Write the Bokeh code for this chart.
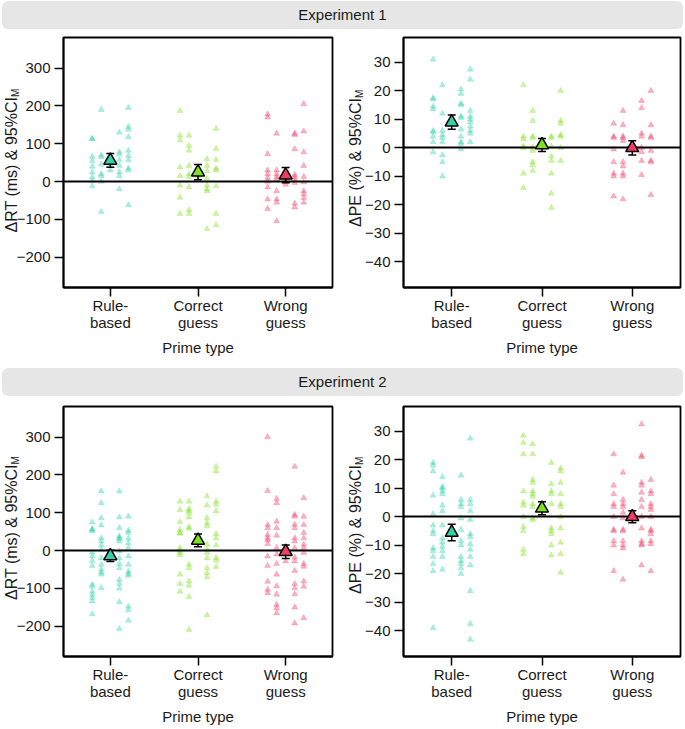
import math
from bokeh.plotting import figure
from bokeh.layouts import column, row
from bokeh.models import Div, FixedTicker, ColumnDataSource, InlineStyleSheet
from bokeh.embed import file_html
from bokeh.resources import INLINE

# ---------------- data ----------------
groups = ["Rule-based", "Correct guess", "Wrong guess"]
tick_labels = ["Rule-\nbased", "Correct\nguess", "Wrong\nguess"]
jitter_cols = [-2, -1, 0, 1, 2]          # jitter column index of each sub-list

# Experiment 1, ΔRT (ms)
e1_rt_rule = [
    [114, 112, 66, 55, 40, 25, 12, 2, -12],
    [190, 70, 65, 45, 20, 15, 0, -80],
    [45, 30],
    [130, 78, 72, 57, 42, 25, 15, -20],
    [195, 145, 138, 118, 82, 68, 57, 35, 30, -62],
]
e1_rt_correct = [
    [187, 122, 110, 38, 15, -10, -42, -85],
    [122, 95, 82, 42, 20, 12, -15, -75, -85],
    [15, 5],
    [60, 42, 28, 8, -10, -20, -25, -125],
    [140, 87, 58, 35, 30, -12, -85, -115],
]
e1_rt_wrong = [
    [178, 170, 73, 30, 20, 10, 0, -15, -47, -72],
    [127, 30, 20, 12, 5, -25, -47, -55, -104],
    [10, 0, -8],
    [127, 124, 86, 18, 12, 5, -3, -58, -68],
    [205, 133, 78, 42, 13, -2, -25, -33, -43, -55],
]
e1_rt_mean = [56, 25, 17]
e1_rt_ci = [18, 20, 20]

# Experiment 1, ΔPE (%)
e1_pe_rule = [
    [31, 17.5, 17, 14.5, 13.5, 6, 5.5, 4, 2, -1.5],
    [22, 12, 6, 4.5, 3.5, 2, -2.5, -5, -10],
    [],
    [20.5, 19, 15.5, 15, 11, 10.5, 6.5, 4, 2, 1.5, -0.5],
    [27.5, 24, 13, 11, 10, 9, 7.5, 6, 5, 2],
]
e1_pe_correct = [
    [22, 4, 3, 0.5, 0, -9, -14],
    [13, 9.5, 4, 3.5, 0, -1, -5, -6, -8],
    [],
    [4, 3.5, 0.5, -3, -4.5, -9, -16, -21],
    [20, 9.5, 8.5, 4.5, 4, 0, -4.5],
]
e1_pe_wrong = [
    [8.5, 4, 3.5, -0.5, -5, -9, -10, -17],
    [13, 8, 4, 3.5, 2.5, -5, -6.5, -9, -10, -18],
    [],
    [16.5, 14, 5, 4, 0, -1.5, -4.5, -9.5],
    [20, 8, 4, 3.5, -1, -4.5, -5, -16.5],
]
e1_pe_mean = [9, 1, 0]
e1_pe_ci = [2.5, 2.3, 2.5]

# Experiment 2, ΔRT (ms)
e2_rt_rule = [
    [75, 57, 55, 52, -5, -15, -27, -40, -90, -95, -108, -117, -125, -134, -168],
    [157, 126, 86, 67, 33, 25, 15, 3, -20, -37, -50, -58, -63, -99],
    [],
    [157, 88, 60, 38, 33, 31, 25, -2, -20, -35, -46, -77, -88, -100, -136, -207],
    [90, 53, 47, 32, 20, 7, -15, -37, -55, -61, -66, -148, -157, -185],
]
e2_rt_correct = [
    [130, 108, 76, 55, 47, 45, 7, 0, -6, -12, -63, -88, -108],
    [130, 110, 105, 100, 88, 62, 58, -37, -46, -81, -92, -122, -209],
    [],
    [144, 120, 86, 73, 65, 16, 3, -6, -20, -46, -59, -70, -170],
    [222, 210, 130, 122, 104, 44, 33, 14, -19, -26, -43],
]
e2_rt_wrong = [
    [300, 158, 68, 60, 42, 33, 28, 18, -15, -40, -82, -103, -112],
    [137, 126, 77, 60, 40, 7, -10, -35, -63, -94, -116, -143, -152, -165],
    [5, -28],
    [222, 95, 90, 69, 60, 33, 25, 7, -18, -28, -53, -88, -99, -115, -150, -192],
    [139, 90, 68, 47, 33, 16, 7, -6, -35, -42, -81, -95, -178],
]
e2_rt_mean = [-14, 27, -3]
e2_rt_ci = [15, 17, 18]

# Experiment 2, ΔPE (%)
e2_pe_rule = [
    [19, 18, 16, 7.5, 1, -3, -5, -6, -11, -12, -14, -16.5, -19, -39],
    [14, 10.5, 10, 9, 8, 4, 2, -3, -7.5, -9, -10.5, -12, -14, -18.5],
    [],
    [14.5, 6, 4.5, 3.5, -0.5, -4.5, -8.5, -10, -14, -15.5, -16.5, -18, -20],
    [27.5, 6, 4.5, 2, -1, -6, -7, -9.5, -11.5, -14, -17, -26, -37.5, -43],
]
e2_pe_correct = [
    [28.5, 26, 22, 9, 5, 4, 0, -3.5, -5, -11.5, -13],
    [25.5, 22, 13, 12, 9, 8, 7, 4.5, 3.5, -0.5, -1],
    [],
    [19, 11.5, 9, 8, 4.5, -4, -5, -6, -10, -13.5],
    [17, 16, 12, 8, 4.5, 3.5, 0, -4, -9, -13, -19.5],
]
e2_pe_wrong = [
    [22, 11, 8, 4.5, 3.5, 0, -4.5, -5, -8.5, -10, -19],
    [15.5, 6, 4.5, 3.5, 1.5, -0.5, -4.5, -5, -8.5, -10, -11, -22],
    [],
    [32.5, 21.5, 21, 12, 11, 8.5, 6, 3.5, 0, -4, -8.5, -9.5, -10, -17],
    [13, 9, 8, 4.5, 3.5, 2.5, 0, -4.5, -5, -6, -8.5, -9.5, -19],
]
e2_pe_mean = [-5.5, 3, 0]
e2_pe_ci = [2.9, 2.3, 2.1]

rt_ticks = [-200, -100, 0, 100, 200, 300]
pe_ticks = [-40, -30, -20, -10, 0, 10, 20, 30]

# ---------------- style ----------------
colors = ["#2ED3A8", "#7FE01E", "#EE3D66"]
FONT = "Liberation Sans"
CSS_FONT = "'Liberation Sans', Arial, sans-serif"
TXT = "#1a1a1a"
COL_STEP = 0.103


def make_panel(group_lists, means, cis, y_range, yticks,
               width, height, bl, br, bt, bb):
    p = figure(width=width, height=height, x_range=(0.466, 3.534), y_range=y_range,
               output_backend="svg", toolbar_location=None,
               min_border_left=bl, min_border_right=br,
               min_border_top=bt, min_border_bottom=bb)
    p.background_fill_color = "white"
    p.border_fill_color = None
    p.xgrid.visible = False
    p.ygrid.visible = False
    p.outline_line_color = "black"
    p.outline_line_width = 1.8
    p.outline_line_alpha = 1.0

    xs, ys, cs = [], [], []
    for gi, cols in enumerate(group_lists):
        for cidx, vals in zip(jitter_cols, cols):
            for v in vals:
                xs.append(gi + 1 + cidx * COL_STEP)
                ys.append(v)
                cs.append(colors[gi])
    src = ColumnDataSource(dict(x=xs, y=ys, c=cs))
    p.scatter("x", "y", source=src, marker="triangle", size=6,
              fill_color="c", line_color="c", fill_alpha=0.4, line_alpha=0.4,
              line_width=0.5)

    p.hspan(y=[0], line_color="black", line_width=1.8)

    gx = [1, 2, 3]
    lo = [m - c for m, c in zip(means, cis)]
    hi = [m + c for m, c in zip(means, cis)]
    p.segment(x0=gx, y0=lo, x1=gx, y1=hi, line_color="black", line_width=1.5)
    p.scatter(x=gx + gx, y=lo + hi, marker="dash", size=8, line_color="black",
              line_width=1.5)
    p.scatter(x=gx, y=means, marker="triangle", size=13, fill_color=colors,
              line_color="black", line_width=1.5)

    p.xaxis.ticker = FixedTicker(ticks=[1, 2, 3])
    p.xaxis.major_label_overrides = {i + 1: t for i, t in enumerate(tick_labels)}
    p.yaxis.ticker = FixedTicker(ticks=yticks)
    p.xaxis.axis_label = "Prime type"
    for ax in p.axis:
        ax.axis_label_text_font = FONT
        ax.axis_label_text_font_size = "15px"
        ax.axis_label_text_font_style = "normal"
        ax.axis_label_text_color = TXT
        ax.major_label_text_font = FONT
        ax.major_label_text_font_size = "15px"
        ax.major_label_text_color = TXT
        ax.major_tick_out = 9
        ax.major_tick_in = 0
        ax.minor_tick_out = 0
        ax.minor_tick_in = 0
        ax.axis_line_color = "black"
        ax.axis_line_width = 1.8
        ax.major_tick_line_width = 1.5
        ax.major_tick_line_color = "black"
    p.xaxis.major_label_standoff = 0
    p.xaxis.axis_label_standoff = 5
    p.xaxis.major_label_text_line_height = 1.05
    p.yaxis.major_label_standoff = 4
    return p


def header(text):
    return Div(text=text, width=681, height=28, margin=0,
               styles={"background-color": "#e6e6e6", "border-radius": "6px",
                       "text-align": "center", "font-family": CSS_FONT,
                       "font-size": "15px", "line-height": "28px", "color": TXT})


VISIBLE = InlineStyleSheet(css=":host{overflow:visible !important;} "
                               "div{overflow:visible !important;}")


def ylabel(html, width, frame_h, top, bottom, dx, dy):
    return Div(text=html, width=width, height=frame_h, margin=(top, 0, bottom, 0),
               stylesheets=[VISIBLE],
               styles={"writing-mode": "vertical-rl", "overflow": "visible",
                       "transform": f"translate({dx}px, {dy}px) rotate(180deg)",
                       "text-align": "center", "font-family": CSS_FONT,
                       "font-size": "16px", "line-height": f"{width}px",
                       "white-space": "nowrap", "color": TXT})


RT_LABEL = "ΔRT (ms) &amp; 95%CI<sub style='font-size:10px'>M</sub>"
PE_LABEL = "ΔPE (%) &amp; 95%CI<sub style='font-size:10px'>M</sub>"

# x: left label 2-13, p1 13-340 (frame 63-332); right label 340-361, p2 361-685 (frame 403-680)
p1 = make_panel([e1_rt_rule, e1_rt_correct, e1_rt_wrong], e1_rt_mean, e1_rt_ci,
                (-280, 381), rt_ticks, 327, 339, 50, 8, 8, 81)
p2 = make_panel([e1_pe_rule, e1_pe_correct, e1_pe_wrong], e1_pe_mean, e1_pe_ci,
                (-49, 38.7), pe_ticks, 324, 339, 42, 5, 8, 81)
p3 = make_panel([e2_rt_rule, e2_rt_correct, e2_rt_wrong], e2_rt_mean, e2_rt_ci,
                (-280, 381), rt_ticks, 327, 333, 50, 8, 10, 73)
p4 = make_panel([e2_pe_rule, e2_pe_correct, e2_pe_wrong], e2_pe_mean, e2_pe_ci,
                (-49, 38.7), pe_ticks, 324, 333, 42, 5, 10, 73)

row1 = row(ylabel(RT_LABEL, 11, 250, 8, 81, 3.5, -1.5), p1,
           ylabel(PE_LABEL, 21, 250, 8, 81, 4.5, -4), p2, spacing=0)
row2 = row(ylabel(RT_LABEL, 11, 250, 10, 73, 3.5, -3), p3,
           ylabel(PE_LABEL, 21, 250, 10, 73, 4.5, -6), p4, spacing=0)

layout = column(header("Experiment 1"), row1, header("Experiment 2"), row2,
                spacing=0, margin=0,
                styles={"position": "absolute", "left": "2px", "top": "1px"})

open("out.html", "w").write(file_html(layout, INLINE))
